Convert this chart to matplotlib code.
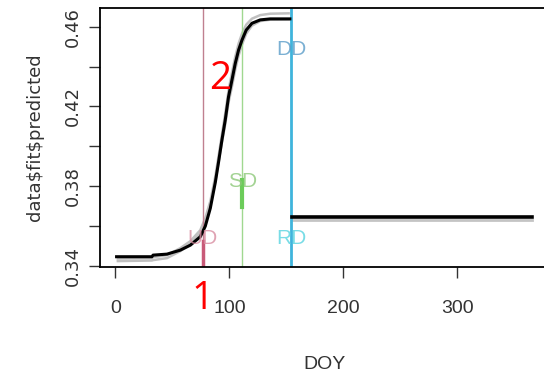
import numpy as np
import matplotlib
matplotlib.use("Agg")
import matplotlib.pyplot as plt

# fitted curve (black)
doy = [1, 32, 33, 45.2, 56.9, 65.7, 74.4, 78.8, 83.2, 87.6, 90.4, 93.4, 96.3,
       99.2, 102.2, 105.1, 108.0, 111.0, 114.7, 119.7, 127.0, 135.8, 153]
pred = [0.3447, 0.3447, 0.3455, 0.3460, 0.3480, 0.3505, 0.3547, 0.3600, 0.3690,
        0.3820, 0.3920, 0.4032, 0.4132, 0.4249, 0.4333, 0.4416, 0.4483, 0.4533,
        0.4583, 0.4617, 0.4634, 0.4639, 0.4639]
doy_late = [155, 365]
pred_late = [0.3645, 0.3645]

# grey ensemble curves around the fit
grey_lo = [0.3425, 0.3428, 0.3430, 0.3440, 0.3475, 0.3510, 0.3565, 0.3620, 0.3705,
           0.3825, 0.3920, 0.4020, 0.4110, 0.4220, 0.4300, 0.4385, 0.4455, 0.4510,
           0.4565, 0.4605, 0.4628, 0.4635, 0.4636]
grey_hi = [0.3438, 0.3440, 0.3445, 0.3455, 0.3490, 0.3525, 0.3580, 0.3640, 0.3725,
           0.3850, 0.3950, 0.4060, 0.4165, 0.4280, 0.4370, 0.4450, 0.4515, 0.4565,
           0.4610, 0.4640, 0.4658, 0.4665, 0.4667]
grey_late = [0.3630, 0.3630]

# phenology dates
UD, SD, DD, RD = 76.7, 111.4, 154.2, 154.2
ud_seg = [0.3397, 0.3525]
sd_seg = [0.3695, 0.3830]

xticks = [0, 100, 200, 300]
yticks = [0.34, 0.36, 0.38, 0.40, 0.42, 0.44, 0.46]
ylabels = ["0.34", "", "0.38", "", "0.42", "", "0.46"]

narrow = ["Liberation Sans Narrow", "Liberation Sans", "DejaVu Sans"]

fig = plt.figure(figsize=(5.44, 3.76), dpi=100)
ax = fig.add_axes([0.1838, 0.2907, 0.8239, 0.6872])

for g in (grey_lo, grey_hi):
    ax.plot(doy, g, color="#c0c0c0", lw=1.8, solid_capstyle="butt")
ax.plot(doy_late, grey_late, color="#c4c4c4", lw=2)

ax.axvline(UD, color="#c08090", lw=1)
ax.axvline(SD, color="#a0d890", lw=1)
ax.axvline(DD, color="#3fb4dc", lw=2)
ax.plot([UD, UD], ud_seg, color="#c85a78", lw=2.5)
ax.plot([SD, SD], sd_seg, color="#6ccc5a", lw=3)

ax.plot(doy, pred, color="black", lw=2.2)
ax.plot(doy_late, pred_late, color="black", lw=2.6)

lab = dict(fontsize=15, ha="center", va="center", family=narrow, alpha=0.8)
ax.text(UD, 0.354, "UD", color="#d88ca0", **lab)
ax.text(SD, 0.3825, "SD", color="#8cc878", **lab)
ax.text(DD, 0.4485, "DD", color="#5a9cc8", **lab)
ax.text(RD, 0.354, "RD", color="#58d4e0", **lab)

ax.set_xlim(-13.56, 379.56)
ax.set_ylim(0.3397, 0.4692)
ax.set_xticks(xticks)
ax.set_xticklabels([str(t) for t in xticks], family=narrow, fontsize=14, color="#333333")
ax.set_yticks(yticks)
ax.set_yticklabels(ylabels, rotation=90, va="center", fontsize=13, color="#333333")
ax.tick_params(length=8, width=1, colors="#333333")
ax.tick_params(axis="x", pad=16)
ax.tick_params(axis="y", pad=5)
for s in ax.spines.values():
    s.set_linewidth(1.3)

ax.set_ylabel("data\\$fit\\$predicted", fontsize=13, color="#333333", labelpad=14)
ax.set_xlabel("DOY", fontsize=14, family=narrow, color="#333333", labelpad=28)

fig.text(220 / 544, 1 - 79 / 376, "2", color="red", fontsize=28, family="Open Sans",
         ha="center", va="center")
fig.text(203 / 544, 1 - 299 / 376, "1", color="red", fontsize=28, family="Open Sans",
         ha="center", va="center")

fig.savefig("out.png", dpi=100)
